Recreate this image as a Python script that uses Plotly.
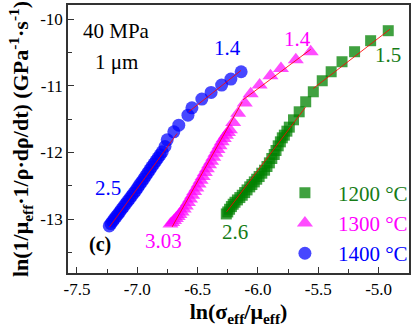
import plotly.graph_objects as go

# ---- data ----
x_1400 = [-7.232, -7.218, -7.204, -7.19, -7.175, -7.16, -7.145, -7.13, -7.113, -7.096,
          -7.08, -7.063, -7.046, -7.03, -7.013, -6.996, -6.98, -6.963, -6.946, -6.93,
          -6.913, -6.896, -6.88, -6.862, -6.845, -6.828, -6.81, -6.793, -6.770, -6.752,
          -6.697, -6.656, -6.580, -6.547, -6.465, -6.388, -6.301, -6.224, -6.139]
y_1400 = [-13.10, -13.065, -13.03, -12.995, -12.96, -12.925, -12.89, -12.85, -12.81, -12.77,
          -12.73, -12.69, -12.65, -12.61, -12.57, -12.525, -12.48, -12.44, -12.395, -12.35,
          -12.305, -12.26, -12.215, -12.17, -12.125, -12.08, -12.035, -11.99, -11.91, -11.81,
          -11.69, -11.59, -11.44, -11.33, -11.20, -11.10, -10.99, -10.90, -10.79]

x_1300 = [-6.725, -6.71, -6.695, -6.68, -6.665, -6.65, -6.632, -6.615, -6.598, -6.58,
          -6.563, -6.545, -6.528, -6.51, -6.492, -6.475, -6.458, -6.44, -6.423, -6.405,
          -6.388, -6.37, -6.352, -6.335, -6.318, -6.30, -6.283, -6.265, -6.248, -6.232,
          -6.205, -6.164, -6.109, -6.060, -5.986, -5.896, -5.809, -5.686, -5.563]
y_1300 = [-13.07, -13.05, -13.02, -12.99, -12.96, -12.93, -12.89, -12.845, -12.80, -12.75,
          -12.695, -12.64, -12.585, -12.53, -12.47, -12.415, -12.36, -12.30, -12.245, -12.185,
          -12.13, -12.07, -12.01, -11.955, -11.90, -11.84, -11.79, -11.74, -11.70, -11.66,
          -11.55, -11.41, -11.26, -11.12, -10.99, -10.85, -10.74, -10.61, -10.49]

x_1200 = [-6.262, -6.25, -6.235, -6.22, -6.205, -6.19, -6.17, -6.15, -6.13, -6.11,
          -6.09, -6.068, -6.05, -6.03, -6.01, -5.99, -5.968, -5.945, -5.925, -5.905,
          -5.885, -5.865, -5.850, -5.832, -5.814, -5.798, -5.781, -5.760, -5.740, -5.705,
          -5.658, -5.604, -5.541, -5.467, -5.393, -5.303, -5.199, -5.066, -4.920]
y_1200 = [-12.92, -12.89, -12.85, -12.81, -12.775, -12.745, -12.71, -12.675, -12.64, -12.60,
          -12.56, -12.515, -12.48, -12.44, -12.40, -12.36, -12.31, -12.265, -12.21, -12.155,
          -12.09, -12.03, -11.97, -11.90, -11.84, -11.78, -11.74, -11.68, -11.62, -11.51,
          -11.39, -11.24, -11.09, -10.925, -10.79, -10.64, -10.49, -10.325, -10.175]

# fitted lines (end points)
fit_1400_lo_x = [-7.23, -6.67];   fit_1400_lo_y = [-13.115, -11.715]
fit_1400_hi_x = [-6.574, -6.14];  fit_1400_hi_y = [-11.39, -10.77]
fit_1300_lo_x = [-6.711, -6.13];  fit_1300_lo_y = [-13.114, -11.24]
fit_1300_hi_x = [-6.123, -5.563]; fit_1300_hi_y = [-11.21, -10.455]
fit_1200_lo_x = [-6.26, -5.605];  fit_1200_lo_y = [-12.89, -11.32]
fit_1200_hi_x = [-5.541, -4.907]; fit_1200_hi_y = [-11.04, -10.155]

series_names = ["1200 °C", "1300 °C", "1400 °C"]

x_tick_vals = [-7.5, -7.0, -6.5, -6.0, -5.5, -5.0]
x_tick_text = ["-7.5", "-7.0", "-6.5", "-6.0", "-5.5", "-5.0"]
y_tick_vals = [-13, -12, -11, -10]
y_tick_text = ["-13", "-12", "-11", "-10"]

# slope labels: (text, x, y, colour)
slope_labels = [
    ("1.4", -6.254, -10.435, "#0000ff"),
    ("1.4", -5.672, -10.30, "#ff00ff"),
    ("1.5", -4.926, -10.54, "#167c16"),
    ("2.5", -7.246, -12.534, "#0000ff"),
    ("3.03", -6.779, -13.33, "#ff00ff"),
    ("2.6", -6.189, -13.19, "#167c16"),
]

FONT = "Liberation Serif, Times New Roman, serif"
GREEN = "rgba(0,130,0,0.75)"
MAGENTA = "rgba(255,0,255,0.7)"
BLUE = "rgba(0,0,255,0.72)"
TXT_GREEN = "#167c16"
TXT_MAGENTA = "#ff00ff"
TXT_BLUE = "#0000ff"


def coloured(name, col):
    return f"<span style='color:{col}'>{name}</span>"


fig = go.Figure()

fig.add_trace(go.Scatter(x=x_1200, y=y_1200, mode="markers", name=coloured(series_names[0], TXT_GREEN),
                         marker=dict(symbol="square", size=11, color=GREEN, line=dict(width=0))))
fig.add_trace(go.Scatter(x=x_1300, y=y_1300, mode="markers", name=coloured(series_names[1], TXT_MAGENTA),
                         marker=dict(symbol="triangle-up", size=14, color=MAGENTA, line=dict(width=0))))
fig.add_trace(go.Scatter(x=x_1400, y=y_1400, mode="markers", name=coloured(series_names[2], TXT_BLUE),
                         marker=dict(symbol="circle", size=13, color=BLUE, line=dict(width=0))))

for fx, fy in [(fit_1400_lo_x, fit_1400_lo_y), (fit_1400_hi_x, fit_1400_hi_y),
               (fit_1300_lo_x, fit_1300_lo_y), (fit_1300_hi_x, fit_1300_hi_y),
               (fit_1200_lo_x, fit_1200_lo_y), (fit_1200_hi_x, fit_1200_hi_y)]:
    fig.add_trace(go.Scatter(x=fx, y=fy, mode="lines", showlegend=False,
                             line=dict(color="rgba(255,0,0,0.85)", width=1), hoverinfo="skip"))

annotations = []
for txt, ax, ay, col in slope_labels:
    annotations.append(dict(x=ax, y=ay, xref="x", yref="y", text=txt, showarrow=False,
                            font=dict(family=FONT, size=21, color=col)))
annotations.append(dict(x=-7.467, y=-10.18, xref="x", yref="y", text="40 MPa", showarrow=False,
                        xanchor="left", font=dict(family=FONT, size=21, color="black")))
annotations.append(dict(x=-7.369, y=-10.64, xref="x", yref="y", text="1 μm", showarrow=False,
                        xanchor="left", font=dict(family=FONT, size=21, color="black")))
annotations.append(dict(x=-7.311, y=-13.375, xref="x", yref="y", text="<b>(c)</b>", showarrow=False,
                        font=dict(family=FONT, size=20, color="black")))

fig.update_layout(
    width=416, height=330,
    margin=dict(l=68, r=3, t=5, b=57),
    paper_bgcolor="white", plot_bgcolor="white",
    font=dict(family=FONT, size=17, color="black"),
    annotations=annotations,
    legend=dict(x=0.598, y=0.375, xanchor="left", yanchor="top", itemwidth=56,
                bgcolor="rgba(0,0,0,0)", font=dict(family=FONT, size=21),
                tracegroupgap=0, itemsizing="trace"),
)

fig.update_xaxes(
    range=[-7.574, -4.748], showgrid=False, zeroline=False,
    showline=True, linecolor="#333", linewidth=1.5, mirror=True,
    ticks="inside", ticklen=6, tickcolor="#333", tickwidth=1,
    tickmode="array", tickvals=x_tick_vals, ticktext=x_tick_text,
    tickfont=dict(family=FONT, size=17),
    minor=dict(tickmode="linear", tick0=-7.5, dtick=0.25, ticks="inside", ticklen=4, tickcolor="#333"),
    title=dict(text="<b>ln(σ<sub>eff</sub>/μ<sub>eff</sub>)</b>", font=dict(family=FONT, size=22), standoff=3),
)
fig.update_yaxes(
    range=[-13.805, -9.79], showgrid=False, zeroline=False,
    showline=True, linecolor="#333", linewidth=1.5, mirror=True,
    ticks="inside", ticklen=6, tickcolor="#333", tickwidth=1,
    tickmode="array", tickvals=y_tick_vals, ticktext=y_tick_text,
    tickfont=dict(family=FONT, size=17),
    minor=dict(tickmode="linear", tick0=-10, dtick=0.5, ticks="inside", ticklen=4, tickcolor="#333"),
    title=dict(text="<b>ln(1/μ<sub>eff</sub>·1/ρ·dρ/dt) (GPa<sup>-1</sup>·s<sup>-1</sup>)</b>",
               font=dict(family=FONT, size=22), standoff=5),
)

fig.write_html("out.html")
